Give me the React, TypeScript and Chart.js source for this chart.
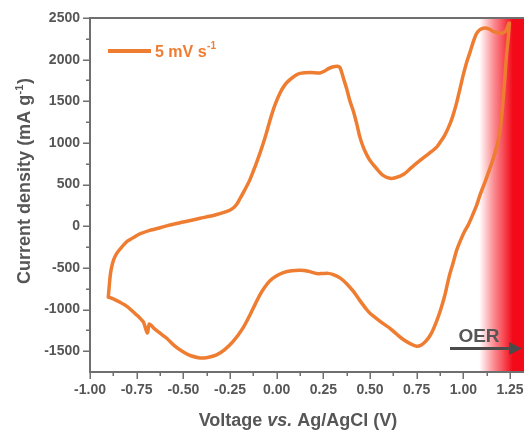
import React, { useEffect, useRef } from "react";
import { Chart, registerables } from "chart.js";

Chart.register(...registerables);

// Anodic sweep (left vertex -> right vertex), V vs. Ag/AgCl and mA g-1
const anodicVoltage = [
  -0.902, -0.897, -0.892, -0.885, -0.873, -0.855, -0.83, -0.8, -0.76, -0.73,
  -0.68, -0.62, -0.58, -0.5, -0.41, -0.33, -0.27, -0.235, -0.215, -0.197,
  -0.17, -0.143, -0.115, -0.089, -0.06, -0.036, -0.01, 0.018, 0.045, 0.071,
  0.1, 0.125, 0.178, 0.232, 0.255, 0.28, 0.304, 0.325, 0.339, 0.36,
  0.375, 0.393, 0.411, 0.43, 0.446, 0.464, 0.482, 0.5, 0.536, 0.57,
  0.607, 0.64, 0.678, 0.72, 0.768, 0.82, 0.857, 0.875, 0.9, 0.928,
  0.946, 0.965, 0.982, 1.0, 1.018, 1.036, 1.054, 1.07, 1.089, 1.116,
  1.14, 1.16, 1.196, 1.215, 1.228, 1.238, 1.246,
];
const anodicCurrent = [
  -850, -720, -600, -500, -400, -320, -250, -180, -125, -90,
  -50, -15, 10, 50, 95, 135, 175, 215, 260, 330,
  440, 560, 720, 880, 1080, 1270, 1450, 1600, 1700, 1760,
  1810, 1835, 1846, 1840, 1860, 1895, 1914, 1920, 1905, 1760,
  1650, 1500, 1380, 1220, 1070, 950, 860, 790, 690, 610,
  575, 585, 620, 700, 790, 880, 950, 1005, 1090, 1225,
  1340, 1490, 1650, 1820, 1970, 2090, 2220, 2310, 2360, 2380,
  2365, 2340, 2318, 2325, 2345, 2400, 2440,
];

// Cathodic sweep (right vertex -> left vertex)
const cathodicVoltage = [
  1.243, 1.238, 1.231, 1.223, 1.214, 1.205, 1.196, 1.18, 1.16, 1.14,
  1.116, 1.09, 1.071, 1.045, 1.025, 1.005, 0.985, 0.964, 0.944, 0.928,
  0.915, 0.902, 0.88, 0.857, 0.83, 0.803, 0.775, 0.75, 0.72, 0.678,
  0.64, 0.607, 0.571, 0.53, 0.5, 0.482, 0.445, 0.41, 0.375, 0.339,
  0.3, 0.276, 0.245, 0.214, 0.17, 0.125, 0.08, 0.036, 0.0, -0.036,
  -0.065, -0.089, -0.115, -0.143, -0.18, -0.232, -0.28, -0.322, -0.37, -0.411,
  -0.46, -0.5, -0.545, -0.589, -0.63, -0.66, -0.682, -0.693, -0.714, -0.74,
  -0.768, -0.8, -0.839, -0.87, -0.902,
];
const cathodicCurrent = [
  2330, 2200, 2050, 1800, 1540, 1320, 1140, 960, 810, 680,
  530, 380, 250, 110, 10, -70, -170, -290, -450, -570,
  -690, -820, -990, -1140, -1280, -1370, -1425, -1440, -1415, -1360,
  -1290, -1225, -1170, -1100, -1045, -1000, -890, -780, -690, -620,
  -578, -566, -568, -568, -540, -528, -535, -557, -595, -655,
  -735, -820, -935, -1065, -1220, -1380, -1485, -1545, -1575, -1581,
  -1555, -1510, -1440, -1345, -1275, -1220, -1172, -1282, -1150, -1085,
  -1030, -965, -912, -878, -850,
];

const xMajorTicks = [-1.0, -0.75, -0.5, -0.25, 0.0, 0.25, 0.5, 0.75, 1.0, 1.25];
const xMinorTicks = [-0.875, -0.625, -0.375, -0.125, 0.125, 0.375, 0.625, 0.875, 1.125];
const yMajorTicks = [-1500, -1000, -500, 0, 500, 1000, 1500, 2000, 2500];
const yMinorTicks = [-1250, -750, -250, 250, 750, 1250, 1750, 2250];

const xRange = [-1.0, 1.325];
const yRange = [-1750, 2500];

// OER region shading (fade-in start and fully saturated edge, in V)
const oerFadeStart = 1.085;
const oerFadeEnd = 1.265;

const seriesLabel = "5 mV s";
const seriesSup = "-1";

const FONT = '"Liberation Sans", Arial, Helvetica, sans-serif';
const ORANGE = "#EE7D31";
const AXIS = "#6f6f6f";
const TEXT = "#565656";

const decorations = {
  id: "decorations",
  beforeDatasetsDraw(chart: any) {
    const { ctx, chartArea: a, scales } = chart;
    const x0 = scales.x.getPixelForValue(oerFadeStart);
    const x1 = scales.x.getPixelForValue(oerFadeEnd);
    const g = ctx.createLinearGradient(x0, 0, x1, 0);
    g.addColorStop(0, "rgba(246, 18, 32, 0)");
    g.addColorStop(0.45, "rgba(246, 18, 32, 0.5)");
    g.addColorStop(1, "rgba(242, 10, 24, 1)");
    ctx.save();
    ctx.fillStyle = g;
    ctx.fillRect(x0, a.top, a.right - x0, a.bottom - a.top);
    ctx.restore();
  },
  afterDraw(chart: any) {
    const { ctx, chartArea: a, scales } = chart;
    const xs = scales.x;
    const ys = scales.y;
    ctx.save();

    // frame: left axis, bottom axis, top line
    ctx.strokeStyle = AXIS;
    ctx.lineWidth = 2;
    ctx.beginPath();
    ctx.moveTo(a.left, a.top);
    ctx.lineTo(a.left, a.bottom);
    ctx.lineTo(a.right, a.bottom);
    ctx.moveTo(a.left - 1, a.top);
    ctx.lineTo(a.right, a.top);
    ctx.stroke();

    // outward tick marks
    ctx.lineWidth = 1.5;
    ctx.beginPath();
    for (const v of yMajorTicks) {
      const p = Math.round(ys.getPixelForValue(v)) + 0.25;
      ctx.moveTo(a.left - 7, p);
      ctx.lineTo(a.left, p);
    }
    for (const v of yMinorTicks) {
      const p = Math.round(ys.getPixelForValue(v)) + 0.25;
      ctx.moveTo(a.left - 4, p);
      ctx.lineTo(a.left, p);
    }
    for (const v of xMajorTicks) {
      const p = Math.round(xs.getPixelForValue(v)) + 0.25;
      ctx.moveTo(p, a.bottom);
      ctx.lineTo(p, a.bottom + 7);
    }
    for (const v of xMinorTicks) {
      const p = Math.round(xs.getPixelForValue(v)) + 0.25;
      ctx.moveTo(p, a.bottom);
      ctx.lineTo(p, a.bottom + 4);
    }
    ctx.stroke();

    // y-axis title with superscript
    ctx.fillStyle = TEXT;
    ctx.textBaseline = "alphabetic";
    ctx.textAlign = "left";
    const big = `bold 18px ${FONT}`;
    const small = `bold 11px ${FONT}`;
    ctx.font = big;
    const t1 = "Current density (mA g";
    const w1 = ctx.measureText(t1).width;
    const w3 = ctx.measureText(")").width;
    ctx.font = small;
    const w2 = ctx.measureText("-1").width + 1;
    const total = w1 + w2 + w3;
    ctx.save();
    ctx.translate(30, 181);
    ctx.rotate(-Math.PI / 2);
    const sx = -total / 2;
    ctx.font = big;
    ctx.fillText(t1, sx, 0);
    ctx.font = small;
    ctx.fillText("-1", sx + w1 + 0.5, -7);
    ctx.font = big;
    ctx.fillText(")", sx + w1 + w2, 0);
    ctx.restore();

    // x-axis title with italic "vs."
    const parts = [
      { t: "Voltage ", f: `bold 18px ${FONT}` },
      { t: "vs.", f: `italic bold 18px ${FONT}` },
      { t: " Ag/AgCl (V)", f: `bold 18px ${FONT}` },
    ];
    let tw = 0;
    for (const p of parts) {
      ctx.font = p.f;
      tw += ctx.measureText(p.t).width;
    }
    let px = 298 - tw / 2;
    for (const p of parts) {
      ctx.font = p.f;
      ctx.fillText(p.t, px, 426);
      px += ctx.measureText(p.t).width;
    }

    // legend entry
    ctx.strokeStyle = ORANGE;
    ctx.lineWidth = 4;
    ctx.lineCap = "butt";
    ctx.beginPath();
    ctx.moveTo(108, 51);
    ctx.lineTo(151, 51);
    ctx.stroke();
    ctx.fillStyle = ORANGE;
    ctx.font = `bold 16px ${FONT}`;
    ctx.fillText(seriesLabel, 155, 57);
    const lw = ctx.measureText(seriesLabel).width;
    ctx.font = `bold 10px ${FONT}`;
    ctx.fillText(seriesSup, 155 + lw + 0.5, 49);

    // OER annotation
    ctx.fillStyle = TEXT;
    ctx.font = `bold 19px ${FONT}`;
    ctx.textAlign = "center";
    ctx.fillText("OER", 479, 342);
    ctx.strokeStyle = "#4b4b4b";
    ctx.fillStyle = "#4b4b4b";
    ctx.lineWidth = 3;
    ctx.beginPath();
    ctx.moveTo(450, 348.5);
    ctx.lineTo(511, 348.5);
    ctx.stroke();
    ctx.beginPath();
    ctx.moveTo(522, 348.5);
    ctx.lineTo(509, 342);
    ctx.lineTo(509, 355);
    ctx.closePath();
    ctx.fill();

    ctx.restore();
  },
};

export default function App() {
  const ref = useRef<HTMLCanvasElement | null>(null);

  useEffect(() => {
    const canvas = ref.current;
    if (!canvas) return;
    const points = [
      ...anodicVoltage.map((v, i) => ({ x: v, y: anodicCurrent[i] })),
      ...cathodicVoltage.map((v, i) => ({ x: v, y: cathodicCurrent[i] })),
    ];
    const tickFont = { family: FONT, size: 14, weight: "bold" as const };
    const chart = new Chart(canvas, {
      type: "scatter",
      data: {
        datasets: [
          {
            label: seriesLabel + seriesSup,
            data: points,
            showLine: true,
            borderColor: ORANGE,
            backgroundColor: ORANGE,
            borderWidth: 3.5,
            pointRadius: 0,
            pointHoverRadius: 0,
            tension: 0.25,
            borderJoinStyle: "round",
            borderCapStyle: "round",
            fill: false,
          },
        ],
      },
      options: {
        animation: false,
        responsive: false,
        devicePixelRatio: 1,
        events: [],
        layout: { padding: { top: 18, left: 0, right: 0, bottom: 0 } },
        plugins: {
          legend: { display: false },
          tooltip: { enabled: false },
          title: { display: false },
        },
        scales: {
          x: {
            type: "linear",
            min: xRange[0],
            max: xRange[1],
            grid: { display: false, drawTicks: false },
            border: { display: false },
            afterBuildTicks: (s: any) => {
              s.ticks = xMajorTicks.map((v) => ({ value: v }));
            },
            afterFit: (s: any) => {
              s.height = 58;
              s.paddingLeft = 0;
              s.paddingRight = 0;
            },
            ticks: {
              autoSkip: false,
              maxRotation: 0,
              padding: 10,
              color: TEXT,
              font: tickFont,
              callback: (v: any) => Number(v).toFixed(2),
            },
          },
          y: {
            type: "linear",
            min: yRange[0],
            max: yRange[1],
            grid: { display: false, drawTicks: false },
            border: { display: false },
            afterBuildTicks: (s: any) => {
              s.ticks = yMajorTicks.map((v) => ({ value: v }));
            },
            afterFit: (s: any) => {
              s.width = 90;
              s.paddingTop = 0;
              s.paddingBottom = 0;
            },
            ticks: {
              autoSkip: false,
              padding: 10,
              color: TEXT,
              font: tickFont,
              callback: (v: any) => String(v),
            },
          },
        },
      },
      plugins: [decorations],
    });
    return () => chart.destroy();
  }, []);

  return (
    <div style={{ position: "absolute", left: 0, top: 0, width: 524, height: 430, background: "#ffffff" }}>
      <canvas ref={ref} width={524} height={430} style={{ display: "block", width: 524, height: 430 }} />
    </div>
  );
}
